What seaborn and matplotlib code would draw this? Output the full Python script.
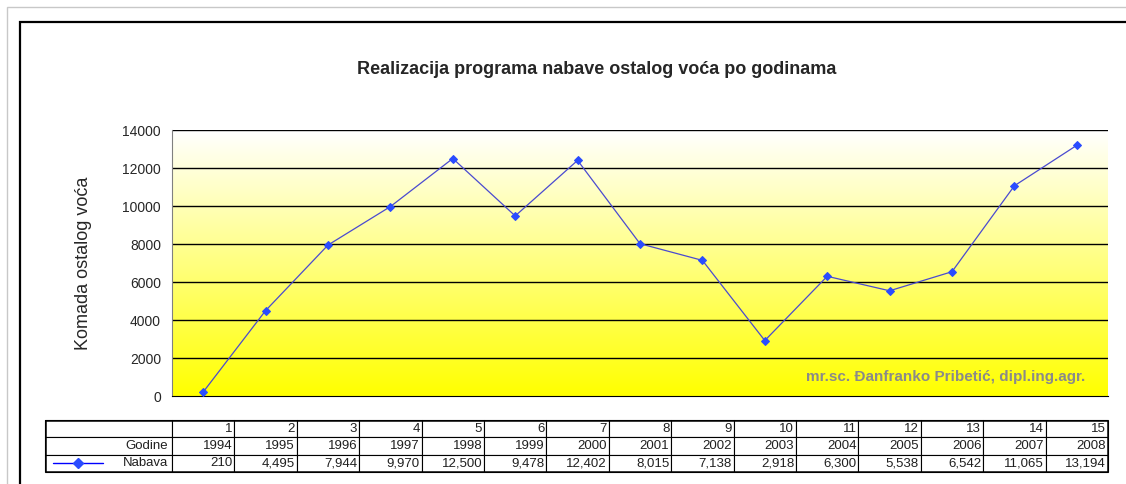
import matplotlib
matplotlib.use("Agg")
import matplotlib.pyplot as plt
import matplotlib.patches as mpatches
import seaborn as sns
import numpy as np
import pandas as pd

redni = [str(i) for i in range(1, 16)]
godine = ['1994', '1995', '1996', '1997', '1998', '1999', '2000', '2001',
          '2002', '2003', '2004', '2005', '2006', '2007', '2008']
nabava = [210, 4495, 7944, 9970, 12500, 9478, 12402, 8015,
          7138, 2918, 6300, 5538, 6542, 11065, 13194]

sns.set_style("white")
plt.rcParams['font.family'] = ['Liberation Sans', 'DejaVu Sans']

W, H = 1126, 484
fig = plt.figure(figsize=(W / 100, H / 100), dpi=100)

# page frame + chart frame
fig.patches.append(mpatches.Rectangle((7 / W, -0.1), 1.2, 1 - 7 / H + 0.1, transform=fig.transFigure,
                                      fill=False, edgecolor='#c8c8c8', linewidth=1))
fig.patches.append(mpatches.Rectangle((20 / W, -0.1), 1.2, 1 - 22 / H + 0.1, transform=fig.transFigure,
                                      fill=False, edgecolor='black', linewidth=1.6))

ax = fig.add_axes([172 / W, (H - 396) / H, 936 / W, 266 / H])
df = pd.DataFrame({'pos': np.arange(len(nabava)), 'Nabava': nabava})

# gradient background: white at top -> yellow at bottom
grad = np.linspace(0, 1, 256).reshape(-1, 1)
cols = np.ones((256, 1, 3))
cols[..., 2] = 1.0 - grad
ax.imshow(cols, extent=[-0.5, 14.5, 0, 14000], aspect='auto', origin='upper', zorder=0)

for y in range(2000, 14001, 2000):
    ax.axhline(y, color='black', linewidth=1, zorder=1)

sns.lineplot(data=df, x='pos', y='Nabava', ax=ax, color='#4a4ad0', linewidth=0.9,
             marker='D', markersize=4.5, markerfacecolor='#2a4cff', markeredgecolor='#2a4cff', zorder=3)

ax.set_xlim(-0.5, 14.5)
ax.set_ylim(0, 14000)
ax.set_yticks(range(0, 14001, 2000))
ax.set_xticks(np.arange(-0.5, 15, 1))
ax.set_xticklabels([])
ax.tick_params(axis='y', direction='out', length=5, width=1, color='black', labelsize=10, pad=3)
ax.tick_params(axis='x', direction='out', length=5, width=1, color='black')
ax.set_xlabel('')
ax.set_ylabel('Komada ostalog voća', fontsize=13, labelpad=22)
for s in ['top', 'right']:
    ax.spines[s].set_visible(False)
ax.spines['left'].set_color('#808080')
ax.spines['bottom'].set_color('black')

ax.text(0.976, 0.045, 'mr.sc. Đanfranko Pribetić, dipl.ing.agr.', transform=ax.transAxes,
        ha='right', va='bottom', fontsize=11, fontweight='bold', color='#8a8a8a')

fig.text(597 / W, 1 - 70 / H, 'Realizacija programa nabave ostalog voća po godinama',
         ha='center', va='center', fontsize=13, fontweight='bold')

# data table
tax = fig.add_axes([45 / W, (H - 472) / H, 1063 / W, 52 / H])
tax.axis('off')
cell_text = [[''] + redni, ['Godine'] + godine, ['Nabava'] + [f'{v:,}' for v in nabava]]
colw = [127 / 1063] + [62.4 / 1063] * 15
tbl = tax.table(cellText=cell_text, colWidths=colw, bbox=[0, 0, 1, 1], cellLoc='right')
tbl.auto_set_font_size(False)
tbl.set_fontsize(9.5)
for (r, c), cell in tbl.get_celld().items():
    cell.set_edgecolor('black')
    cell.set_linewidth(0.8)
    cell.PAD = 0.03
    cell.get_text().set_color('#202020')
tax.add_patch(mpatches.Rectangle((0, 0), 1, 1, transform=tax.transAxes, fill=False,
                                 edgecolor='black', linewidth=1.8, zorder=5))
# legend key in the Nabava row
tax.plot([8 / 1063, 58 / 1063], [1 / 6, 1 / 6], color='#0000ff', linewidth=1, transform=tax.transAxes, zorder=6)
tax.plot([33 / 1063], [1 / 6], marker='D', markersize=5, color='#2a4cff', transform=tax.transAxes, zorder=6)

fig.savefig('out.png', dpi=100)
